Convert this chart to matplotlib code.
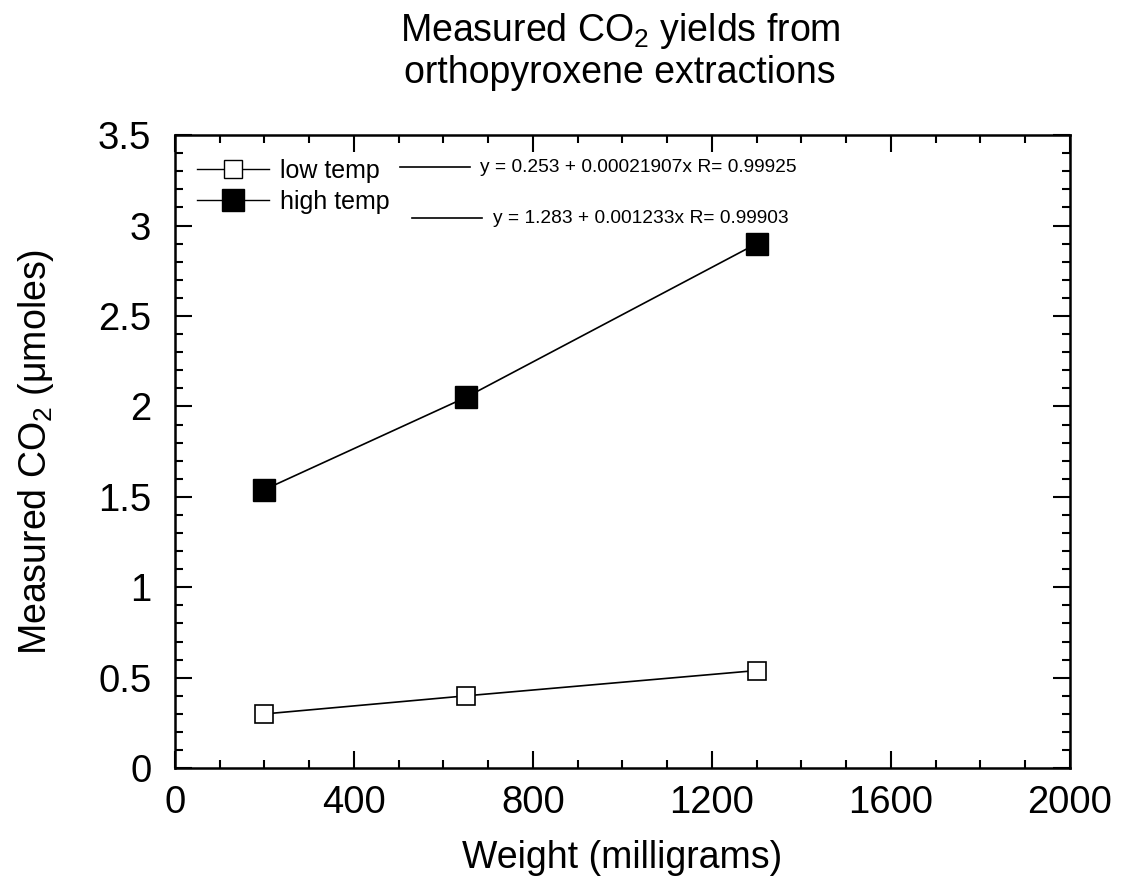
import matplotlib
matplotlib.use("Agg")
import matplotlib.pyplot as plt
from matplotlib.lines import Line2D
from matplotlib.ticker import MultipleLocator

plt.rcParams['font.family'] = ['Liberation Sans', 'DejaVu Sans']
plt.rcParams['mathtext.fontset'] = 'custom'
plt.rcParams['mathtext.rm'] = 'Liberation Sans'
plt.rcParams['mathtext.it'] = 'Liberation Sans:italic'

# data
weight = [200, 650, 1300]
co2_low = [0.30, 0.40, 0.54]
co2_high = [1.54, 2.05, 2.90]
labels = ["low temp", "high temp"]
fit_low = "y = 0.253 + 0.00021907x R= 0.99925"
fit_high = "y = 1.283 + 0.001233x R= 0.99903"

fig = plt.figure(figsize=(11.21, 8.83), dpi=100)
ax = fig.add_axes([0.156, 0.130, 0.7985, 0.717])

ax.plot(weight, co2_low, color="black", lw=1.2, marker="s", ms=13,
        mfc="white", mec="black", mew=1.2)
ax.plot(weight, co2_high, color="black", lw=1.2, marker="s", ms=16,
        mfc="black", mec="black")

ax.set_xlim(0, 2000)
ax.set_ylim(0, 3.5)
ax.xaxis.set_major_locator(MultipleLocator(400))
ax.xaxis.set_minor_locator(MultipleLocator(100))
ax.yaxis.set_major_locator(MultipleLocator(0.5))
ax.yaxis.set_minor_locator(MultipleLocator(0.1))
ax.yaxis.set_major_formatter(plt.FuncFormatter(lambda v, p: f"{v:g}"))
ax.tick_params(which="both", direction="in", top=True, right=True, width=1.5)
ax.tick_params(which="major", length=12, labelsize=27.5)
ax.tick_params(axis="x", which="major", pad=12)
ax.tick_params(axis="y", which="major", pad=17)
ax.tick_params(which="minor", length=6)
for s in ax.spines.values():
    s.set_linewidth(1.8)

ax.set_xlabel("Weight (milligrams)", fontsize=27, labelpad=14)
ax.set_ylabel("Measured CO$_2$ (\u03bcmoles)", fontsize=27, labelpad=30)
fig.text(0.553, 0.988, "Measured CO$_2$ yields from\northopyroxene extractions",
         ha="center", va="top", fontsize=27, linespacing=1.15)

# legend
handles = [
    Line2D([], [], color="black", lw=1, marker="s", ms=13, mfc="white", mec="black"),
    Line2D([], [], color="black", lw=1, marker="s", ms=16, mfc="black", mec="black"),
]
ax.legend(handles, labels, loc="upper left", frameon=False,
          fontsize=18, handlelength=2.85, handletextpad=0.45, labelspacing=0.3,
          bbox_to_anchor=(0.025, 0.963), borderaxespad=0, borderpad=0)

# fit line samples and equations
ax.plot([0.251, 0.330], [0.949, 0.949], color="black", lw=1.2, transform=ax.transAxes)
ax.text(0.341, 0.949, fit_low, transform=ax.transAxes, fontsize=13.8, va="center")
ax.plot([0.265, 0.343], [0.869, 0.869], color="black", lw=1.2, transform=ax.transAxes)
ax.text(0.355, 0.869, fit_high, transform=ax.transAxes, fontsize=13.8, va="center")

fig.savefig("out.png", dpi=100)
